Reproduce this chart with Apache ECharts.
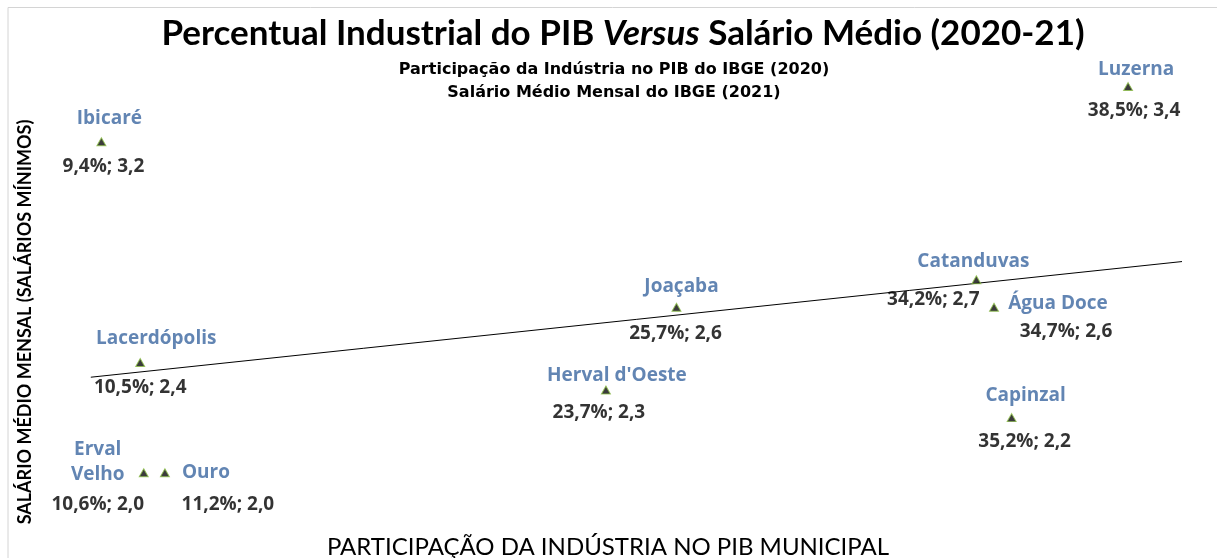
<!DOCTYPE html>
<html>
<head>
<meta charset="utf-8">
<script src="https://cdn.jsdelivr.net/npm/echarts@6/dist/echarts.min.js"></script>
<style>
  html, body { margin: 0; padding: 0; background: #fff; }
  #main { width: 1217px; height: 558px; }
</style>
</head>
<body>
<div id="main"></div>
<script>
// dados (municípios)
var cidades = ['Ibicaré', 'Lacerdópolis', 'Erval\nVelho', 'Ouro', "Herval d'Oeste", 'Joaçaba', 'Catanduvas', 'Água Doce', 'Capinzal', 'Luzerna'];
var industriaPIB = [9.4, 10.5, 10.6, 11.2, 23.7, 25.7, 34.2, 34.7, 35.2, 38.5];   // % indústria no PIB (2020)
var salarioMedio = [3.2, 2.4, 2.0, 2.0, 2.3, 2.6, 2.7, 2.6, 2.2, 3.4];          // salários mínimos (2021)
var trendRange = [9.1, 40.05];  // extensão da linha de tendência

// deslocamento dos rótulos (nome / valor) em px
var nomeOffset = [[8, -23], [16, -24], [-46, -11], [41, 0], [11, -14], [5, -21], [-3, -18], [64, -4], [14, -22], [8, -17]];
var valorOffset = [[2, 25], [0, 25], [-46, 32], [63, 32], [-7, 23], [-1, 26], [-43, 20], [72, 24], [13, 24], [6, 24]];

function fmt(v, d) {
    return v.toFixed(d).replace('.', ',');
}

// regressão linear (tendência do Excel)
function tendencia() {
    var n = industriaPIB.length, mx = 0, my = 0;
    for (var i = 0; i < n; i++) { mx += industriaPIB[i]; my += salarioMedio[i]; }
    mx /= n; my /= n;
    var sxy = 0, sxx = 0;
    for (var j = 0; j < n; j++) {
        sxy += (industriaPIB[j] - mx) * (salarioMedio[j] - my);
        sxx += (industriaPIB[j] - mx) * (industriaPIB[j] - mx);
    }
    var b = sxy / sxx, a = my - b * mx;
    return trendRange.map(function (x) { return [x, a + b * x]; });
}

var fonte = 'Open Sans';
var azul = '#3b66a0';

var dadosNome = cidades.map(function (c, i) {
    return {
        value: [industriaPIB[i], salarioMedio[i]],
        label: { offset: nomeOffset[i], formatter: c }
    };
});
var dadosValor = cidades.map(function (c, i) {
    return {
        value: [industriaPIB[i], salarioMedio[i]],
        label: { offset: valorOffset[i], formatter: fmt(industriaPIB[i], 1) + '%; ' + fmt(salarioMedio[i], 1) }
    };
});

var myChart = echarts.init(document.getElementById('main'));

var option = {
    backgroundColor: '#ffffff',
    animation: false,
    textStyle: { fontFamily: fonte },
    title: [{
        text: '{b|Percentual Industrial do PIB }{i|Versus}{b| Salário Médio (2020-21)}',
        left: 618,
        textAlign: 'center',
        top: 11,
        textStyle: {
            rich: {
                b: { fontFamily: 'Lato', fontWeight: 'bold', fontSize: 35, color: '#000' },
                i: { fontFamily: 'Lato', fontStyle: 'italic', fontSize: 35, color: '#000' }
            }
        }
    }, {
        text: 'Participação da Indústria no PIB do IBGE (2020)\nSalário Médio Mensal do IBGE (2021)',
        left: 609,
        textAlign: 'center',
        top: 53,
        textStyle: { fontFamily: 'DejaVu Sans', fontWeight: 'bold', fontSize: 16, lineHeight: 23, color: '#000' }
    }],
    graphic: [{
        type: 'polyline',
        shape: { points: [[8, 558], [8, 7.5], [1217, 7.5]] },
        style: { stroke: '#d4d4d4', lineWidth: 1, fill: null }
    }, {
        type: 'text',
        x: 25, y: 322,
        rotation: Math.PI / 2,
        style: {
            text: 'SALÁRIO MÉDIO MENSAL (SALÁRIOS MÍNIMOS)',
            fontFamily: 'Lato', fontWeight: 'bold', fontSize: 18, fill: '#000',
            align: 'center', verticalAlign: 'middle'
        }
    }, {
        type: 'text',
        x: 608, y: 547,
        style: {
            text: 'PARTICIPAÇÃO DA INDÚSTRIA NO PIB MUNICIPAL',
            fontFamily: 'Lato', fontSize: 24, fill: '#000',
            align: 'center', verticalAlign: 'middle'
        }
    }],
    grid: { left: 52, width: 1129, top: 59, height: 469, outerBoundsMode: 'none', containLabel: false },
    xAxis: {
        type: 'value', min: 8, max: 40,
        axisLine: { show: false }, axisTick: { show: false }, axisLabel: { show: false }, splitLine: { show: false }
    },
    yAxis: {
        type: 'value', min: 1.8, max: 3.5,
        axisLine: { show: false }, axisTick: { show: false }, axisLabel: { show: false }, splitLine: { show: false }
    },
    series: [{
        name: 'tendência',
        type: 'line',
        data: tendencia(),
        symbol: 'none',
        silent: true,
        lineStyle: { color: '#000', width: 1 },
        z: 1
    }, {
        name: 'municípios',
        type: 'scatter',
        data: dadosNome,
        symbol: 'triangle',
        symbolSize: [9, 8],
        itemStyle: { color: '#0a0a0a', borderColor: '#8fc14a', borderWidth: 1 },
        label: {
            show: true, position: 'inside',
            fontFamily: fonte, fontWeight: 'bold', fontSize: 19, lineHeight: 25, color: azul
        },
        z: 3
    }, {
        name: 'valores',
        type: 'scatter',
        data: dadosValor,
        symbolSize: 0,
        label: {
            show: true, position: 'inside',
            fontFamily: fonte, fontWeight: 'bold', fontSize: 19, color: '#000'
        },
        z: 3
    }]
};

myChart.setOption(option);
</script>
</body>
</html>
